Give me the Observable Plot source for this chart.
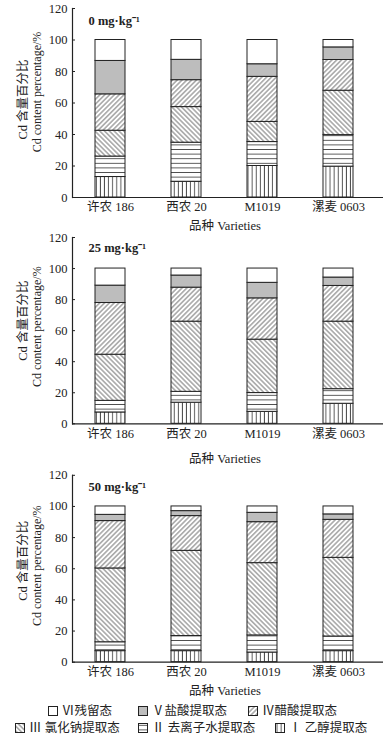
<!DOCTYPE html>
<html><head><meta charset="utf-8">
<script src="https://cdn.jsdelivr.net/npm/d3@7"></script>
<script src="https://cdn.jsdelivr.net/npm/@observablehq/plot@0.6"></script>
<style>
body{margin:0;background:#fff;width:383px;height:742px;overflow:hidden;font-family:"Liberation Serif","Noto Sans CJK SC",serif;color:#222}
#wrap svg{display:block}
#legend{position:relative;height:42px}
.item{position:absolute;display:flex;align-items:center;font-size:12.5px;line-height:14px;white-space:nowrap}
.item svg{margin-right:4px;display:block}
</style></head><body>
<svg width="0" height="0" style="position:absolute"><defs>
<pattern id="pI" patternUnits="userSpaceOnUse" width="4.1" height="4"><rect width="4.1" height="4" fill="#fff"/><line x1="2" y1="0" x2="2" y2="4" stroke="#444" stroke-width="0.9"/></pattern>
<pattern id="pII" patternUnits="userSpaceOnUse" width="4" height="4.6"><rect width="4" height="4.6" fill="#fff"/><line x1="0" y1="2.3" x2="4" y2="2.3" stroke="#444" stroke-width="0.9"/></pattern>
<pattern id="pIII" patternUnits="userSpaceOnUse" width="3.4" height="3.4" patternTransform="rotate(-45)"><rect width="3.4" height="3.4" fill="#fff"/><line x1="1.7" y1="0" x2="1.7" y2="3.4" stroke="#444" stroke-width="0.75"/></pattern>
<pattern id="pIV" patternUnits="userSpaceOnUse" width="3.4" height="3.4" patternTransform="rotate(45)"><rect width="3.4" height="3.4" fill="#fff"/><line x1="1.7" y1="0" x2="1.7" y2="3.4" stroke="#444" stroke-width="0.75"/></pattern>
</defs></svg>
<div id="wrap"></div>
<div id="legend"></div>
<script>
const varieties = ["许农 186", "西农 20", "M1019", "漯麦 0603"];
const fractions = ["I", "II", "III", "IV", "V", "VI"];
const fractionLabels = ["Ⅰ 乙醇提取态", "Ⅱ 去离子水提取态", "Ⅲ 氯化钠提取态", "Ⅳ醋酸提取态", "Ⅴ盐酸提取态", "Ⅵ残留态"];
const fractionFills = ["url(#pI)", "url(#pII)", "url(#pIII)", "url(#pIV)", "#bdbdbd", "#ffffff"];
const panelLabels = ["0 mg·kg⁻¹", "25 mg·kg⁻¹", "50 mg·kg⁻¹"];
const yTicks = [0, 20, 40, 60, 80, 100, 120];
const xTitle = "品种 Varieties";
const yTitle1 = "Cd 含量百分比";
const yTitle2 = "Cd content percentage/%";

// rows: fractions I..VI, columns: varieties
const values0 = [
  [13, 10, 20, 19.6],
  [13, 24.8, 15.2, 20],
  [16.4, 22.6, 12.8, 28.2],
  [23.1, 17.1, 28.6, 19.5],
  [21.2, 12.9, 8, 8],
  [13.3, 12.6, 15.4, 4.7]
];
const values25 = [
  [7.3, 13.6, 7.7, 12.9],
  [7.5, 7, 12.1, 9.4],
  [29.7, 45.2, 34.4, 43.5],
  [33.3, 21.9, 26.6, 23],
  [11.2, 7.8, 10, 5.4],
  [11, 4.5, 9.2, 5.8]
];
const values50 = [
  [7.1, 7.1, 6.2, 7.1],
  [5.7, 9.7, 11, 9.4],
  [47.4, 54.7, 46.4, 50.5],
  [30.4, 22.3, 26.3, 24.4],
  [4, 3.2, 6, 3.5],
  [5.4, 3, 4.1, 5.1]
];
const panelValues = [values0, values25, values50];

const W = 383, ML = 72, MR = 6;
const layout = [
  {h: 232, mt: 8, mb: 35, xt: 28, y1: -3.5, y2: -11, lab: 12},
  {h: 236, mt: 5, mb: 44.7, xt: 34.7, y1: -10, y2: -4, lab: 10},
  {h: 232, mt: 6.8, mb: 38.3, xt: 29, y1: -8, y2: -3, lab: 12}
];
const fontFam = '"Liberation Serif","Noto Sans CJK SC",serif';
const wrap = document.getElementById("wrap");

panelValues.forEach((vals, p) => {
  const L = layout[p];
  const data = [];
  varieties.forEach((v, j) => fractions.forEach((f, i) => data.push({variety: v, fraction: f, value: vals[i][j]})));
  const chart = Plot.plot({
    width: W, height: L.h, marginLeft: ML, marginRight: MR, marginTop: L.mt, marginBottom: L.mb,
    style: {fontFamily: fontFam, fontSize: "12.5px", color: "#222", background: "#fff"},
    x: {domain: varieties, paddingInner: 0.6, paddingOuter: 0.29},
    y: {domain: [0, 120]},
    color: {domain: fractions, range: fractionFills},
    marks: [
      Plot.barY(data, {x: "variety", y: "value", fill: "fraction", stroke: "#222", strokeWidth: 1}),
      Plot.ruleY([0], {stroke: "#222", strokeWidth: 1.2, insetRight: -MR}),
      Plot.frame({anchor: "left", stroke: "#222", strokeWidth: 1.2}),
      Plot.tickY(yTicks, {y: d => d, stroke: "#222", insetRight: W - ML - MR - 3}),
      Plot.axisY({ticks: yTicks, tickSize: 0, tickPadding: 5, label: null, fontSize: 12.5}),
      Plot.axisX({tickSize: 0, tickPadding: 5, label: null, fontSize: 12.5}),
      Plot.text([xTitle], {text: d => d, frameAnchor: "bottom", dy: L.xt, lineAnchor: "middle", fontSize: 12.5, fill: "#222"}),
      Plot.text([yTitle1], {text: d => d, frameAnchor: "left", rotate: -90, dx: -50, dy: L.y1, textAnchor: "middle", lineAnchor: "middle", fontSize: 12.5, fill: "#222"}),
      Plot.text([yTitle2], {text: d => d, frameAnchor: "left", rotate: -90, dx: -35.5, dy: L.y2, textAnchor: "middle", lineAnchor: "middle", fontSize: 12, fill: "#222"}),
      Plot.text([panelLabels[p]], {text: d => d, frameAnchor: "top-left", dx: 16, dy: L.lab, textAnchor: "start", lineAnchor: "middle", fontSize: 12.5, fontWeight: "bold", fill: "#222"})
    ]
  });
  wrap.appendChild(chart);
});

// legend
const legendOrder = [5, 4, 3, 2, 1, 0];
const legendPos = [[48, 3.7], [138, 3.7], [248, 3.7], [15, 21.3], [138, 21.3], [275, 21.3]];
const legend = document.getElementById("legend");
legendOrder.forEach((k, idx) => {
  const [lx, ly] = legendPos[idx];
  const div = document.createElement("div");
  div.className = "item";
  div.style.left = lx + "px";
  div.style.top = ly + "px";
  div.innerHTML = `<svg width="10" height="10"><rect x="0.5" y="0.5" width="9" height="9" fill="${fractionFills[k]}" stroke="#222" stroke-width="1"/></svg><span>${fractionLabels[k]}</span>`;
  legend.appendChild(div);
});
</script>
</body></html>
